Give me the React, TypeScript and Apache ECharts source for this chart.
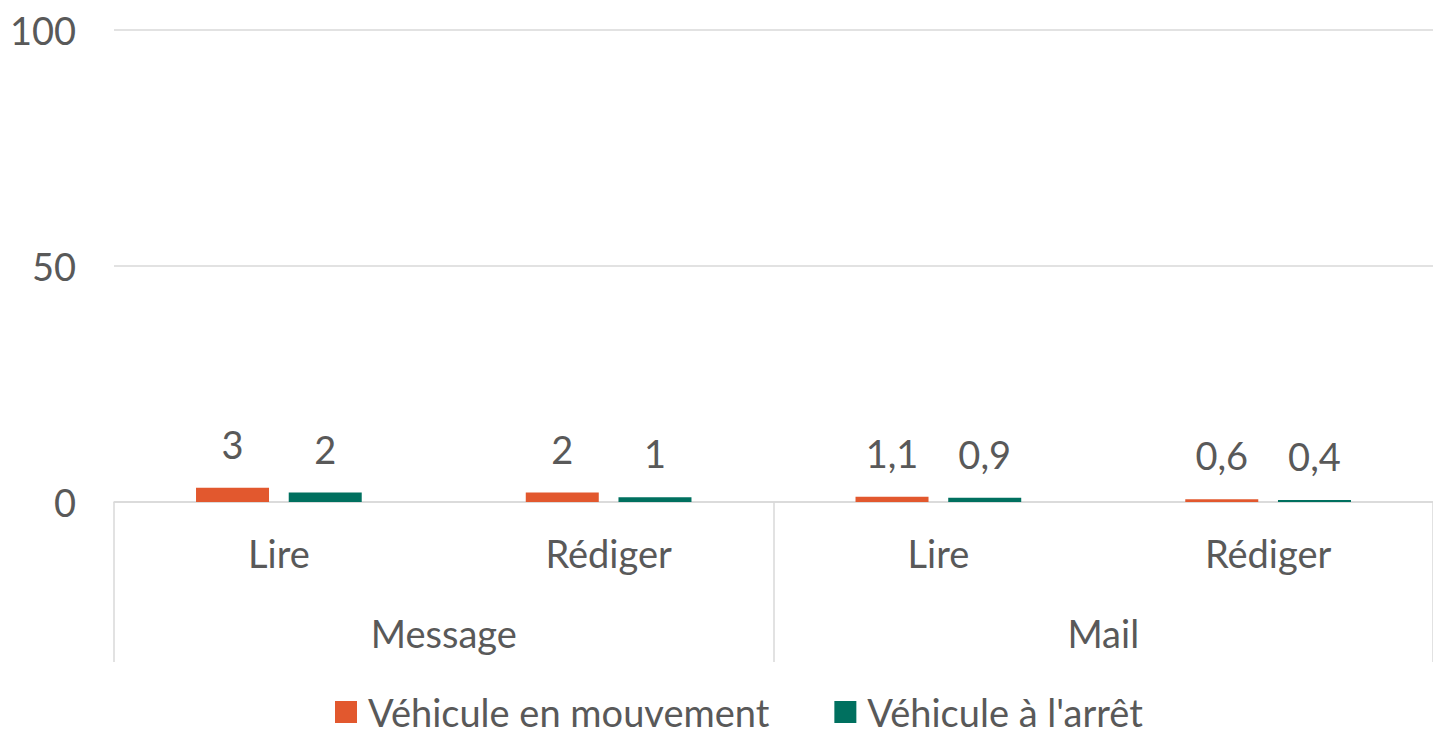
import React, { useEffect, useRef } from "react";
import * as echarts from "echarts";

const subCategories = ["Lire", "Rédiger", "Lire", "Rédiger"];
const groupCategories = ["Message", "Mail"];
const seriesNames = ["Véhicule en mouvement", "Véhicule à l'arrêt"];
const enMouvement = [3, 2, 1.1, 0.6];
const aLArret = [2, 1, 0.9, 0.4];
const colors = ["#E2582E", "#00705F"];

const FONT = "Lato, 'Open Sans', sans-serif";
const TEXT = "#595959";
const FS = 38;

export default function App() {
  const ref = useRef<HTMLDivElement>(null);
  useEffect(() => {
    document.body.style.margin = "0";
    if (!ref.current) return;
    const chart = echarts.init(ref.current, undefined, { renderer: "svg" });
    const fmt = (p: any) => String(p.value).replace(".", ",");
    const label = {
      show: true,
      position: "top",
      distance: 25,
      fontSize: FS,
      color: TEXT,
      fontFamily: FONT,
      formatter: fmt,
    };
    chart.setOption({
      animation: false,
      textStyle: { fontFamily: FONT },
      grid: { left: 114, right: 0, top: 30, bottom: 234, containLabel: false },
      legend: {
        left: 335,
        top: 692,
        padding: 0,
        itemWidth: 22,
        itemHeight: 22,
        itemGap: 65,
        icon: "rect",
        textStyle: {
          fontSize: FS,
          lineHeight: 40,
          color: TEXT,
          fontFamily: FONT,
          padding: [0, 0, 0, 6],
        },
        data: seriesNames,
      },
      xAxis: [
        {
          type: "category",
          data: subCategories,
          axisLine: { show: true, lineStyle: { color: "#d9d9d9", width: 1.5 } },
          axisTick: { show: false },
          axisLabel: { fontSize: FS, color: TEXT, fontFamily: FONT, margin: 32 },
        },
        {
          type: "category",
          data: groupCategories,
          position: "bottom",
          axisLine: { show: false },
          axisTick: { show: true, length: 160, lineStyle: { color: "#d9d9d9", width: 1.5 } },
          axisLabel: { fontSize: FS, color: TEXT, fontFamily: FONT, margin: 112 },
        },
      ],
      yAxis: {
        type: "value",
        min: 0,
        max: 100,
        interval: 50,
        axisLine: { show: false },
        axisTick: { show: false },
        axisLabel: { fontSize: FS, color: TEXT, fontFamily: FONT, margin: 38, padding: [0, 0, 6, 0] },
        splitLine: { lineStyle: { color: "#d9d9d9", width: 1.5 } },
      },
      series: [
        {
          name: seriesNames[0],
          type: "bar",
          data: enMouvement,
          barWidth: 73,
          barGap: "27%",
          itemStyle: { color: colors[0] },
          label,
        },
        {
          name: seriesNames[1],
          type: "bar",
          data: aLArret,
          barWidth: 73,
          barGap: "27%",
          itemStyle: { color: colors[1] },
          label,
        },
      ],
    });
    return () => chart.dispose();
  }, []);
  return <div ref={ref} style={{ width: 1433, height: 736 }} />;
}
